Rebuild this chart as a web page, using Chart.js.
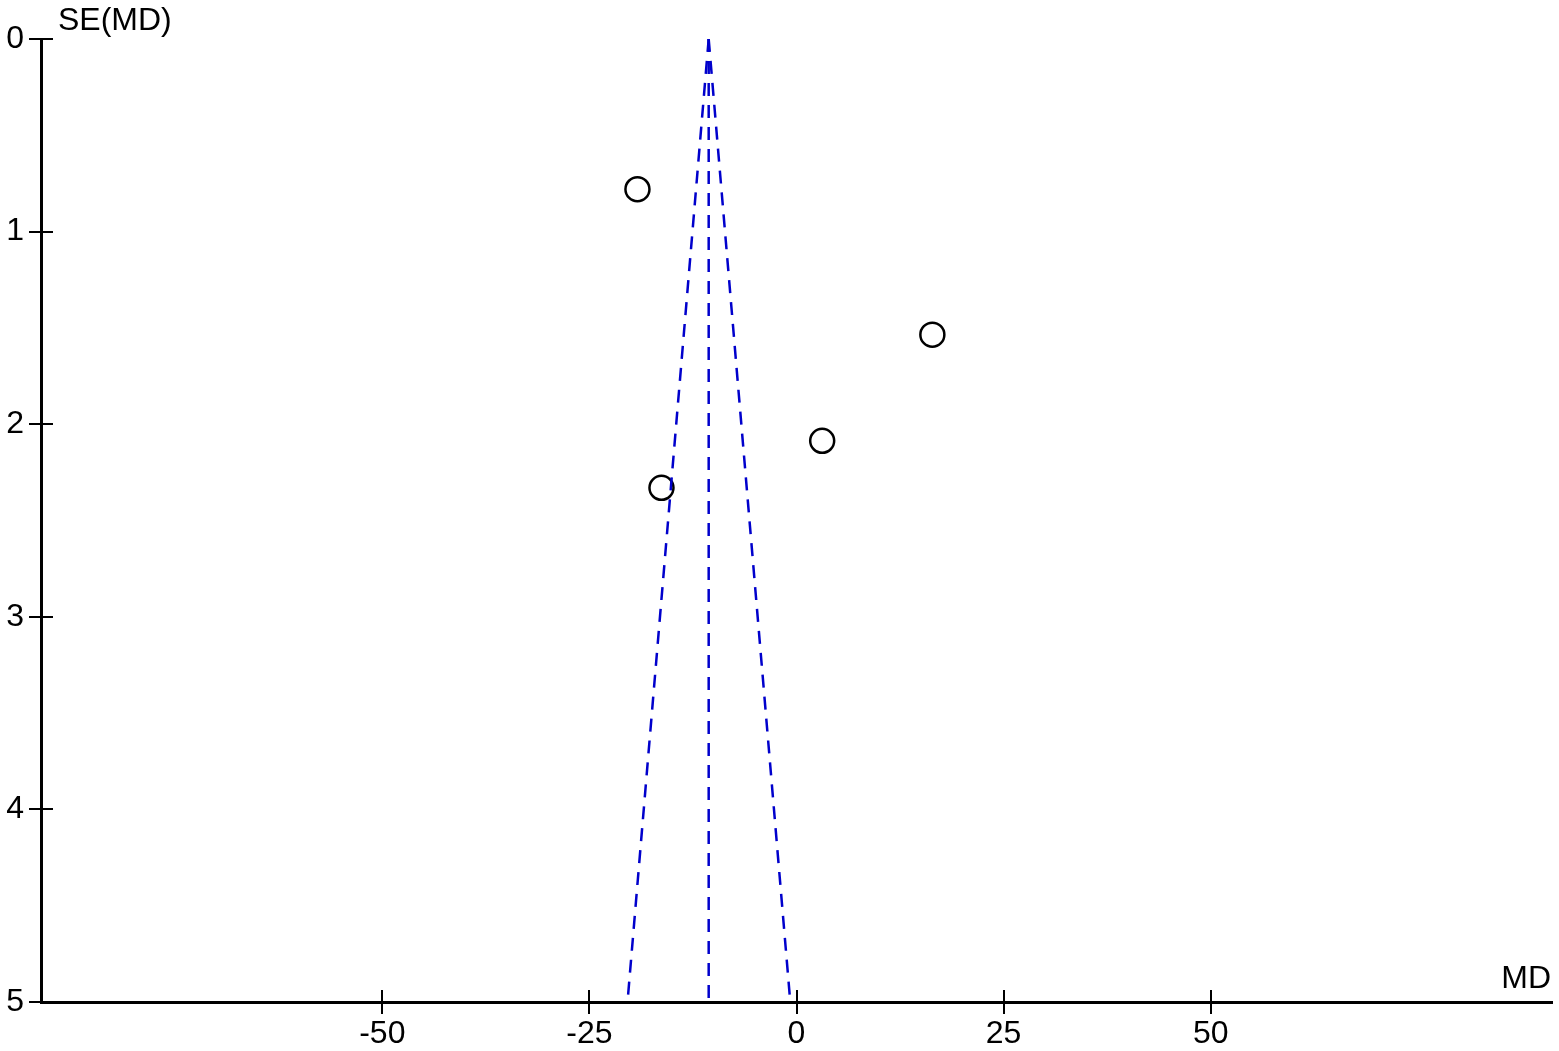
<!DOCTYPE html>
<html>
<head>
<meta charset="utf-8">
<script src="https://cdn.jsdelivr.net/npm/chart.js@4"></script>
<style>
  html, body { margin: 0; padding: 0; background: #fff; overflow: hidden; }
  canvas { display: block; }
</style>
</head>
<body>
<canvas id="myChart" width="1559" height="1051"></canvas>
<script>
// study estimates (MD) and their standard errors
let studyMD = [-19.2, 16.4, 3.1, -16.3];
let studySE = [0.78, 1.535, 2.086, 2.33];

// funnel: pooled estimate and 95% limits read at SE = 0 and SE = 5
let pooledMD = -10.6;
let funnelSE = [0, 5];
let funnelLeft = [-10.6, -20.4];
let funnelRight = [-10.6, -0.75];

let xTicks = [-50, -25, 0, 25, 50];
let yTicks = [0, 1, 2, 3, 4, 5];

let fontFamily = '"Liberation Sans", Arial, sans-serif';
let funnelBlue = '#0000cc';

function toPoints(xs, ys) {
    return xs.map((x, i) => ({x: x, y: ys[i]}));
}

let dashedLine = {
    type: 'line',
    showLine: true,
    borderColor: funnelBlue,
    borderWidth: 2.5,
    borderDash: [13, 9],
    pointRadius: 0,
    fill: false,
    clip: false
};

// inward half of the tick marks plus the two axis titles
let axisExtras = {
    id: 'axisExtras',
    afterDraw(chart) {
        let ctx = chart.ctx;
        let xs = chart.scales.x, ys = chart.scales.y;
        let area = chart.chartArea;
        ctx.save();
        ctx.strokeStyle = '#000';
        ctx.lineWidth = 2;
        xTicks.forEach(v => {
            let px = Math.round(xs.getPixelForValue(v));
            ctx.beginPath();
            ctx.moveTo(px, area.bottom);
            ctx.lineTo(px, area.bottom - 12);
            ctx.stroke();
        });
        yTicks.slice(0, -1).forEach(v => {
            let py = Math.round(ys.getPixelForValue(v));
            ctx.beginPath();
            ctx.moveTo(area.left, py);
            ctx.lineTo(area.left + 12, py);
            ctx.stroke();
        });
        ctx.fillStyle = '#000';
        ctx.font = '32px ' + fontFamily;
        ctx.textBaseline = 'alphabetic';
        ctx.textAlign = 'left';
        ctx.fillText('SE(MD)', 58, 30);
        ctx.textAlign = 'right';
        ctx.fillText('MD', area.right - 1, 988);
        ctx.restore();
    }
};

let chartData = {
    type: 'scatter',
    data: {
        datasets: [
            Object.assign({}, dashedLine, {
                label: 'lower limit',
                data: toPoints(funnelLeft, funnelSE)
            }),
            Object.assign({}, dashedLine, {
                label: 'upper limit',
                data: toPoints(funnelRight, funnelSE)
            }),
            Object.assign({}, dashedLine, {
                label: 'pooled',
                data: toPoints([pooledMD, pooledMD], funnelSE)
            }),
            {
                label: 'Studies',
                data: toPoints(studyMD, studySE),
                pointStyle: 'circle',
                pointRadius: 12,
                pointBorderWidth: 2.5,
                pointBackgroundColor: 'rgba(0,0,0,0)',
                pointBorderColor: '#000',
                clip: false
            }
        ]
    },
    options: {
        responsive: false,
        animation: false,
        layout: {
            autoPadding: false,
            padding: {top: 39, right: 7, left: 0, bottom: 0}
        },
        plugins: {
            legend: {display: false},
            tooltip: {enabled: false}
        },
        scales: {
            x: {
                type: 'linear',
                min: -91.2,
                max: 91.2,
                afterBuildTicks: scale => {
                    scale.ticks = xTicks.map(v => ({value: v}));
                },
                afterFit: scale => {
                    scale.height = 49;
                    scale.paddingLeft = 0;
                    scale.paddingRight = 0;
                },
                grid: {
                    drawOnChartArea: false,
                    drawTicks: true,
                    tickLength: 12,
                    color: '#000',
                    lineWidth: 2
                },
                border: {display: true, color: '#000', width: 3},
                ticks: {
                    color: '#000',
                    padding: 1,
                    maxRotation: 0,
                    font: {size: 32, family: fontFamily}
                }
            },
            y: {
                type: 'linear',
                reverse: true,
                min: 0,
                max: 5,
                afterBuildTicks: scale => {
                    scale.ticks = yTicks.map(v => ({value: v}));
                },
                afterFit: scale => { scale.width = 41; },
                grid: {
                    drawOnChartArea: false,
                    drawTicks: true,
                    tickLength: 12,
                    color: '#000',
                    lineWidth: 2
                },
                border: {display: true, color: '#000', width: 3},
                ticks: {
                    color: '#000',
                    padding: 5,
                    font: {size: 32, family: fontFamily}
                }
            }
        }
    },
    plugins: [axisExtras]
};

let ctx = document.getElementById('myChart').getContext('2d');
let myChart = new Chart(ctx, chartData);
</script>
</body>
</html>
